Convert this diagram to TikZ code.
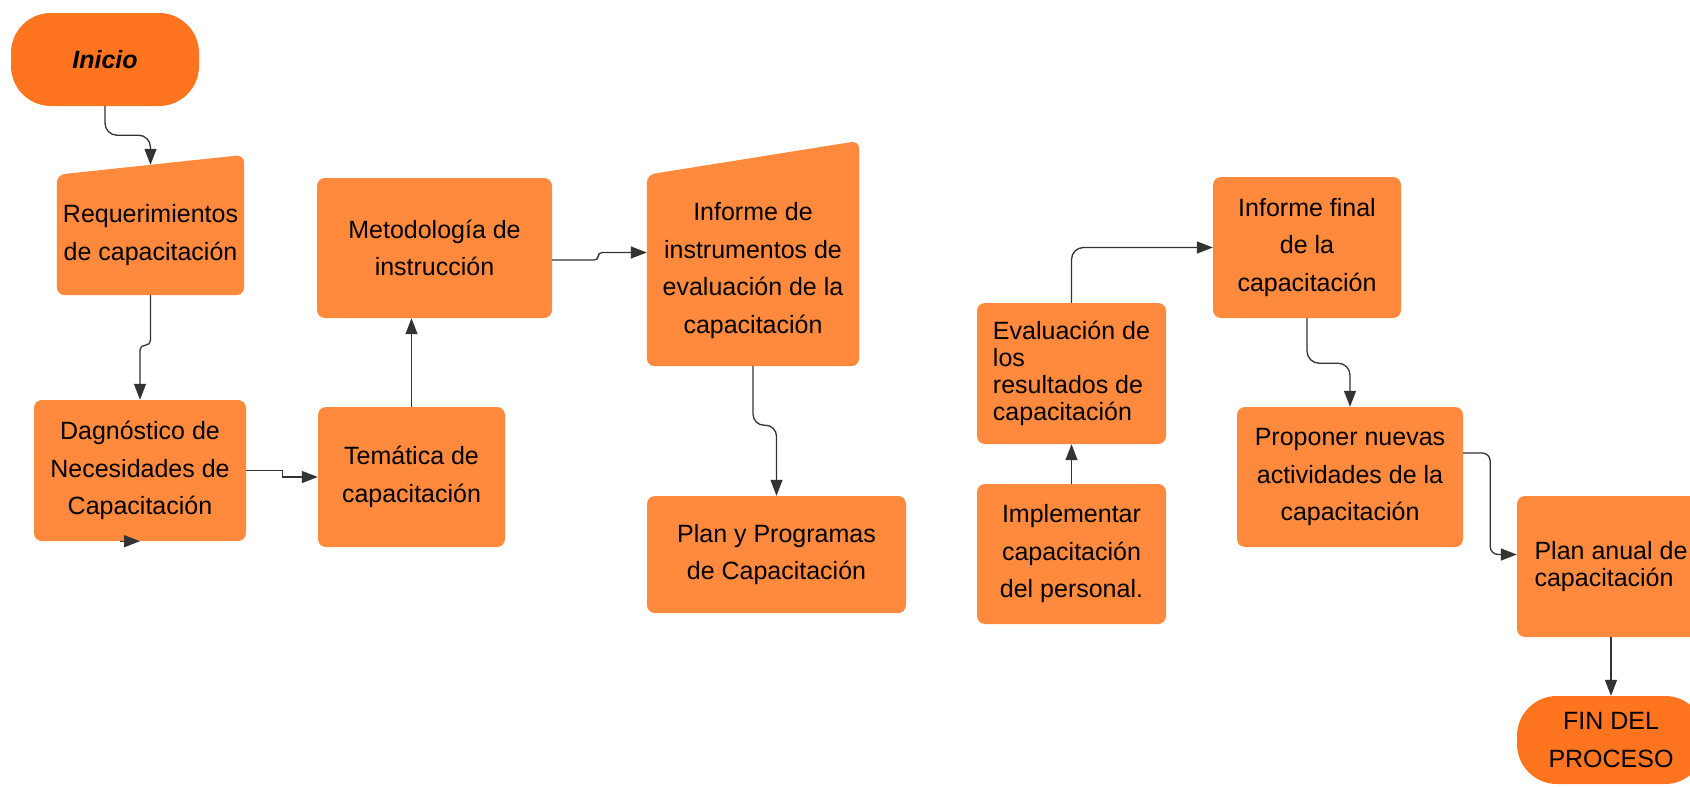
\documentclass[tikz,border=0pt]{standalone}
\usepackage{fontspec}
\setmainfont{Liberation Sans}
\usetikzlibrary{arrows.meta, calc, backgrounds}
\definecolor{boxorange}{RGB}{255,138,61}
\definecolor{endorange}{RGB}{255,117,31}
\definecolor{linegray}{RGB}{51,51,51}

\begin{document}
\begin{tikzpicture}[x=1pt, y=-1pt, font=\fontsize{25}{37.5}\selectfont]

            \tikzstyle{termnode} = [fill=endorange, rounded corners=40pt, inner sep=0, align=center, minimum width=188pt];
            \tikzstyle{boxnode} = [fill=boxorange, rounded corners=8pt, inner sep=0, align=center];
            \tikzstyle{slantnode} = [inner sep=0, align=center];
            \tikzstyle{tightnode} = [boxnode, align=left, font=\fontsize{25}{27}\selectfont];
            \tikzstyle{arrow} = [line width=1.3pt, draw=linegray, -{Triangle[length=16pt, width=12pt]}];

            \useasboundingbox (0,0) rectangle (1690,787);
            \clip (0,0) rectangle (1690,787);

            \node[termnode, minimum height=93pt] (1) at (105,59.5) {\textbf{\textit{Inicio}}};
            \node[slantnode, minimum width=187pt, minimum height=120pt] (2) at (150.5,235) {Requerimientos\\de capacitación};
            \node[boxnode, minimum width=212pt, minimum height=141pt] (3) at (140,470.5) {Dagnóstico de\\Necesidades de\\Capacitación};
            \node[boxnode, minimum width=187pt, minimum height=140pt] (4) at (411.5,477) {Temática de\\capacitación};
            \node[boxnode, minimum width=235pt, minimum height=140pt] (5) at (434.5,248) {Metodología de\\instrucción};
            \node[slantnode, minimum width=212pt, minimum height=191pt] (6) at (753,270.5) {Informe de\\instrumentos de\\evaluación de la\\capacitación};
            \node[boxnode, minimum width=259pt, minimum height=117pt] (7) at (776.5,554.5) {Plan y Programas\\de Capacitación};
            \node[tightnode, minimum width=189pt, minimum height=141pt] (8) at (1071.5,373.5) {Evaluación de\\los\\resultados de\\capacitación};
            \node[boxnode, minimum width=189pt, minimum height=140pt] (9) at (1071.5,554) {Implementar\\capacitación\\del personal.};
            \node[boxnode, minimum width=188pt, minimum height=141pt] (10) at (1307,247.5) {Informe final\\de la\\capacitación};
            \node[boxnode, minimum width=226pt, minimum height=140pt] (11) at (1350,477) {Proponer nuevas\\actividades de la\\capacitación};
            \node[tightnode, minimum width=188pt, minimum height=141pt] (12) at (1611,566.5) {Plan anual de\\capacitación};
            \node[termnode, minimum height=88pt] (13) at (1611,740) {FIN DEL\\PROCESO};

            \begin{scope}[on background layer]
                \fill[boxorange, rounded corners=8pt] (2.south west) -- (2.north west) -- ([yshift=20pt]2.north east) -- (2.south east) -- cycle;
                \fill[boxorange, rounded corners=8pt] (6.south west) -- (6.north west) -- ([yshift=34pt]6.north east) -- (6.south east) -- cycle;
            \end{scope}
            \coordinate (2top) at ($(2.north west)!0.5!([yshift=20pt]2.north east)$);

            \draw[arrow, rounded corners=12pt] (1.south) -- ++(0,29) -| (2top);
            \draw[arrow, rounded corners=5pt] (2.south) -- ++(0,50) -| (3.north);
            \draw[arrow] (3.east) -- ++(36,0) |- (4.west);
            \draw[arrow] ([xshift=-20pt]3.south) -- (3.south);
            \draw[arrow] (4.north) -- (4.north |- 5.south);
            \draw[arrow, rounded corners=4pt] ([yshift=-12pt]5.east) -- ++(46,0) |- ([yshift=18pt]6.west);
            \draw[arrow, rounded corners=11pt] (6.south) -- ++(0,59) -| (7.north);
            \draw[arrow] (9.north) -- (8.south);
            \draw[arrow, rounded corners=12pt] (8.north) |- (10.west);
            \draw[arrow, rounded corners=12pt] (10.south) -- ++(0,45) -| (11.north);
            \draw[arrow, rounded corners=8pt] ([yshift=24pt]11.east) -- ++(27,0) |- ([yshift=12pt]12.west);
            \draw[arrow] (12.south) -- (13.north);

\end{tikzpicture}
\end{document}
